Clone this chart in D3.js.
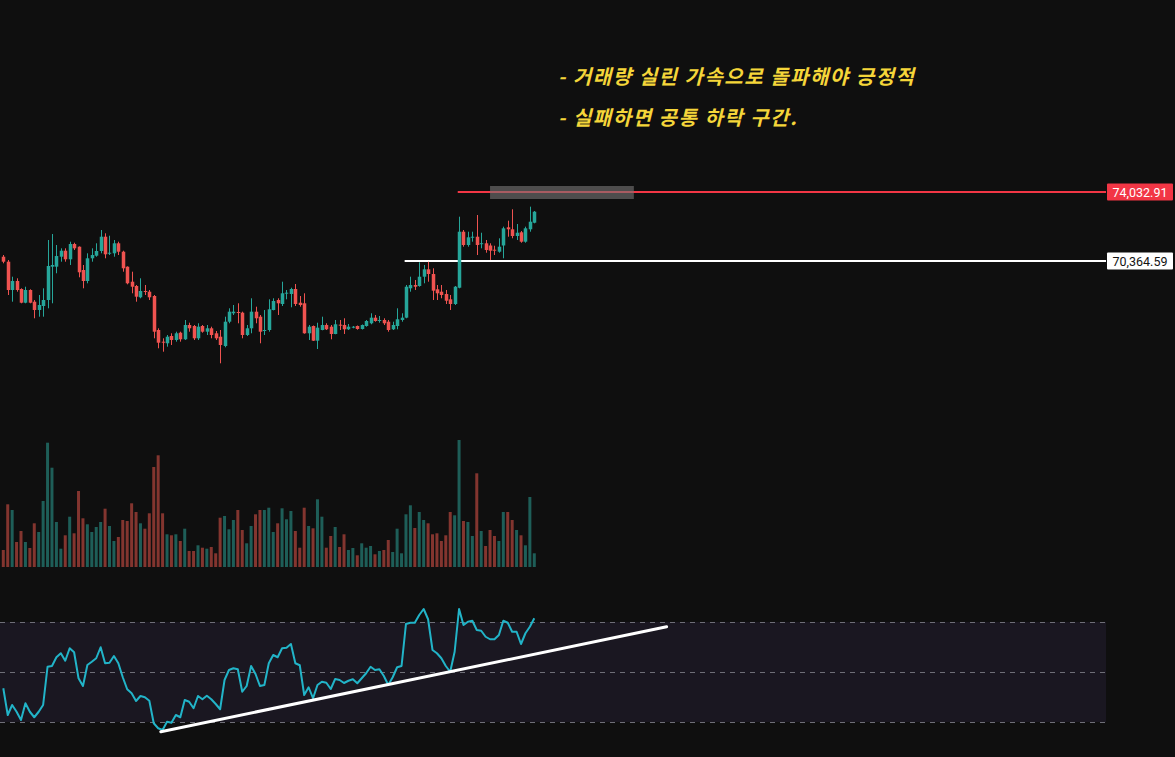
<!DOCTYPE html>
<html>
<head>
<meta charset="utf-8">
<script src="https://cdn.jsdelivr.net/npm/d3@7"></script>
<style>
  html, body { margin: 0; padding: 0; background: #0f0f0f; }
  svg { display: block; }
</style>
</head>
<body>
<div id="chart"></div>
<script>
// ---- data ----
const opens = [70593,70328,68823,69301,68876,68147,68823,68201,67760,67972,68291,70062,70062,70593,70912,70455,71268,71125,69886,69301,
  70508,70646,70896,71656,70774,70774,71306,70859,70062,69264,69035,68435,68770,68733,68504,66696,66075,65990,66377,66165,
  66553,66202,66962,66909,66255,66909,66606,66787,66521,66340,65846,67138,67585,67653,67617,66430,66787,67670,67404,66670,
  66696,67760,68291,68078,68664,68611,68876,68147,68116,66521,66909,66128,66696,66962,66872,66484,66980,66962,66734,66856,
  66909,66749,66909,67053,67351,67207,67228,67138,66734,66909,67228,67351,68913,69088,69035,69530,69923,69673,68860,68733,
  68611,68328,68078,68944,71922,71215,71640,71656,71284,71306,71189,70965,70859,71189,72156,72050,71693,71890,71391,72050,72400];
const highs = [70683,70418,69530,69445,68913,68998,68860,68291,68557,68913,71481,71799,71215,71039,71039,71391,71337,71140,70152,70774,
  71039,71306,72012,71837,71709,71481,71391,70912,70080,69796,69088,69445,69088,68823,68557,66787,66255,66430,66521,66606,
  66606,67228,67084,66962,67053,66962,66962,66872,66643,66696,67404,67850,68025,68116,67670,66962,68382,67935,67494,67760,
  68328,68382,68382,69264,68823,68944,69141,68504,68648,66962,66935,67084,67404,67053,66962,67228,67228,67319,67016,66909,
  66935,66990,67228,67585,67494,67441,67319,67228,67138,67850,67585,69088,69530,69354,70295,70152,70328,69977,69088,69088,
  68823,68557,69035,72720,72012,71922,71922,72810,71868,71481,71306,71177,71571,72190,72507,73113,72331,71959,72190,73253,73023];
const lows = [70243,68557,68201,68733,68116,68116,68116,67319,67404,67404,67850,68116,69711,70328,70328,70152,70949,69498,68913,69179,
  70328,70593,70774,70508,70683,70593,70683,69796,69125,68648,68201,68382,68557,68291,66255,65724,65543,65809,65899,66075,
  66075,66165,66606,66165,66165,66553,66430,66255,66165,64926,65777,67053,67494,67053,66255,66377,66521,67053,65990,66430,
  66606,67740,67494,67972,68328,67903,67972,67935,66500,66165,66112,65686,66680,66696,66202,66470,66696,66484,66696,66787,
  66712,66722,66872,67000,67138,67084,66962,66606,66696,66734,67138,67319,68733,68823,68998,69179,69264,68291,68291,68382,
  68078,67760,68025,68913,71125,71125,71391,70683,71039,70805,70418,70683,70805,70509,71656,71571,71481,71337,71337,71922,72368];
const closes = [70328,68823,69301,68823,68147,68823,68147,67760,68025,68291,70099,70152,70630,70912,70455,71268,71039,69764,69301,70508,
  70683,70896,71656,70720,70805,71306,70859,69977,69179,68998,68467,68770,68745,68435,66606,66021,66059,66340,66165,66521,
  66202,66962,66787,66255,66872,66606,66787,66430,66255,65899,67138,67670,67670,67617,66430,66787,67670,67319,66606,66696,
  67797,68238,68116,68648,68680,68876,68078,68025,66521,66872,66128,66819,66962,66734,66484,67000,66946,66734,66872,66872,
  66749,66962,67175,67351,67175,67228,67053,66696,66962,67266,67351,68998,69088,68998,69530,69923,69673,68786,68648,68557,
  68254,68078,68998,71922,71215,71624,71656,71215,71310,70949,70912,70949,71125,72102,72050,71693,71868,71391,72102,72454,72986];
const volumes = [1700,6270,5700,2500,3600,2500,1900,4370,3500,6600,12430,9930,4500,1830,3170,5030,3370,7600,4870,4270,
  3500,4000,4500,5830,4100,2600,3000,4700,4600,6370,5500,4370,3830,5370,10000,11170,5370,3270,3170,3270,
  2600,3830,1600,1600,2170,1930,1830,2000,1370,4930,5100,3770,4700,5700,3700,2370,4100,5270,5700,5700,
  5930,3500,4370,5870,4770,5600,3600,1930,5930,4100,3870,6770,5030,1930,3100,4000,2000,3270,1700,1900,
  1170,2370,1930,2100,1270,1600,1700,2700,1500,3830,1370,5270,6170,3900,5500,4700,4370,3270,3370,2600,
  3170,5500,5170,12700,4600,4500,3100,9370,3600,2100,3700,3100,2600,5500,5500,4700,3700,3170,2170,7000,1370];
const rsi = [43.5,32.8,36.8,34.1,30.8,37.5,34.1,31.9,34.1,36.8,52.1,52.4,55.9,57.5,54.5,59.5,57.9,47.5,44.4,52.8,
  54.1,55.5,59.9,53.5,53.7,56.4,53.5,47.9,43.1,41.5,38.4,40.4,39.9,38.5,29.5,27.5,26.8,30.1,29.7,32.8,
  31.9,38.8,38.1,35.5,40.4,39.1,40.5,39.1,37.2,35.1,46.8,50.8,51.5,51.1,42.1,44.4,52.4,49.2,44.4,44.8,
  53.5,56.8,55.9,59.5,59.7,61.2,53.5,52.7,40.8,43.9,39.5,44.8,46.1,45.7,43.2,47.2,46.8,45.6,46.5,47.1,
  45.5,47.5,49.5,52.1,50.8,51.1,48.4,44.8,47.9,51.9,52.4,69.2,69.7,69.7,72.8,75.2,71.1,58.8,57.5,55.5,
  52.4,50.1,58.1,75.2,68.8,70.1,70.5,66.8,66.5,64.1,63.1,63.1,64.8,70.5,69.7,66.1,66.1,61.2,65.5,68.1,71.5];

const rsiLevels = [70, 50, 30];
// trendline drawn on the rsi pane: [bar index, rsi]
const trendStart = [36.6, 26.1];
const trendEnd = [150.9, 68.1];

// horizontal price lines: [price, first bar]
const resistLine = [74032.91, 103.7];
const supportLine = [70364.59, 91.7];
// gray box near the resistance: [bar from, bar to, price low, price high]
const zoneBox = [111, 143.5, 73661, 74352];

const notes = ["- 거래량 실린 가속으로 돌파해야 긍정적", "- 실패하면 공통 하락 구간."];

// ---- layout ----
const width = 1175, height = 757;
const plotRight = 1106;
const upColor = "#26a69a", downColor = "#ef5350";

const bars = closes.map((c, i) => ({
  i: i + 1, o: opens[i], h: highs[i], l: lows[i], c: c, v: volumes[i], r: rsi[i]
}));

const x = d3.scaleLinear().domain([1, 250]).range([3.3, 1105.1]);
const y = d3.scaleLinear().domain([70364.59, 74032.91]).range([261, 192]);
const yVol = d3.scaleLinear().domain([0, 12700]).range([567, 440]);
const yRsi = d3.scaleLinear().domain([30, 70]).range([722, 622]);

const svg = d3.select("#chart").append("svg")
  .attr("width", width)
  .attr("height", height);

svg.append("rect").attr("width", width).attr("height", height).attr("fill", "#0f0f0f");

// volume
svg.append("g")
  .selectAll("rect")
  .data(bars)
  .join("rect")
  .attr("x", d => x(d.i) - 1.5)
  .attr("width", 3)
  .attr("y", d => yVol(d.v))
  .attr("height", d => yVol(0) - yVol(d.v))
  .attr("fill", d => d.c >= d.o ? "#1e5e58" : "#83352f");

// price lines
svg.append("line")
  .attr("x1", x(supportLine[1])).attr("x2", plotRight)
  .attr("y1", y(supportLine[0])).attr("y2", y(supportLine[0]))
  .attr("stroke", "#ffffff").attr("stroke-width", 2);

svg.append("line")
  .attr("x1", x(resistLine[1])).attr("x2", plotRight)
  .attr("y1", y(resistLine[0])).attr("y2", y(resistLine[0]))
  .attr("stroke", "#f23645").attr("stroke-width", 2);

svg.append("rect")
  .attr("x", x(zoneBox[0]))
  .attr("width", x(zoneBox[1]) - x(zoneBox[0]))
  .attr("y", y(zoneBox[3]))
  .attr("height", y(zoneBox[2]) - y(zoneBox[3]))
  .attr("fill", "rgba(120,118,118,0.6)");

// candles
const candle = svg.append("g")
  .selectAll("g")
  .data(bars)
  .join("g")
  .attr("fill", d => d.c >= d.o ? upColor : downColor)
  .attr("stroke", d => d.c >= d.o ? upColor : downColor);

candle.append("line")
  .attr("x1", d => Math.round(x(d.i)) + 0.5)
  .attr("x2", d => Math.round(x(d.i)) + 0.5)
  .attr("y1", d => y(d.h))
  .attr("y2", d => y(d.l))
  .attr("stroke-width", 1);

candle.append("rect")
  .attr("stroke", "none")
  .attr("x", d => Math.round(x(d.i)) + 0.5 - 1.75)
  .attr("width", 3.5)
  .attr("y", d => y(Math.max(d.o, d.c)))
  .attr("height", d => Math.max(1, Math.abs(y(d.o) - y(d.c))));

// rsi pane
svg.append("rect")
  .attr("x", 0).attr("width", plotRight)
  .attr("y", yRsi(70)).attr("height", yRsi(30) - yRsi(70))
  .attr("fill", "#1a1721");

svg.append("g")
  .selectAll("line")
  .data(rsiLevels)
  .join("line")
  .attr("x1", 0).attr("x2", plotRight)
  .attr("y1", d => yRsi(d) + 0.5).attr("y2", d => yRsi(d) + 0.5)
  .attr("stroke", "#6f6f78")
  .attr("stroke-dasharray", "5,5");

svg.append("path")
  .datum(bars)
  .attr("fill", "none")
  .attr("stroke", "#22b4c8")
  .attr("stroke-width", 2)
  .attr("stroke-linejoin", "round")
  .attr("d", d3.line().x(d => x(d.i)).y(d => yRsi(d.r)));

svg.append("line")
  .attr("x1", x(trendStart[0])).attr("y1", yRsi(trendStart[1]))
  .attr("x2", x(trendEnd[0])).attr("y2", yRsi(trendEnd[1]))
  .attr("stroke", "#ffffff")
  .attr("stroke-width", 3)
  .attr("stroke-linecap", "round");

// price labels on the right
const labels = [
  { p: resistLine[0], bg: "#f23645", fg: "#ffffff" },
  { p: supportLine[0], bg: "#ffffff", fg: "#131313" }
];
const fmt = d3.format(",.2f");
const lab = svg.append("g")
  .selectAll("g")
  .data(labels)
  .join("g")
  .attr("transform", d => `translate(1107,${y(d.p)})`);
lab.append("rect")
  .attr("x", 0).attr("y", -8.5)
  .attr("width", 66).attr("height", 17)
  .attr("rx", 1)
  .attr("fill", d => d.bg);
lab.append("text")
  .attr("x", 33).attr("y", 0.5)
  .attr("text-anchor", "middle")
  .attr("dominant-baseline", "central")
  .attr("font-family", "Roboto, 'Liberation Sans', sans-serif")
  .attr("font-size", 12.5)
  .attr("fill", d => d.fg)
  .text(d => fmt(d.p));

// annotation text
svg.append("g")
  .selectAll("text")
  .data(notes)
  .join("text")
  .attr("x", 558)
  .attr("y", (d, i) => 75 + i * 41)
  .attr("dominant-baseline", "central")
  .attr("font-family", "'Noto Sans CJK KR', 'Noto Sans', sans-serif")
  .attr("font-size", 20)
  .attr("letter-spacing", 1.5)
  .attr("font-weight", "bold")
  .attr("font-style", "italic")
  .attr("fill", "#f5d63a")
  .text(d => d);
</script>
</body>
</html>
